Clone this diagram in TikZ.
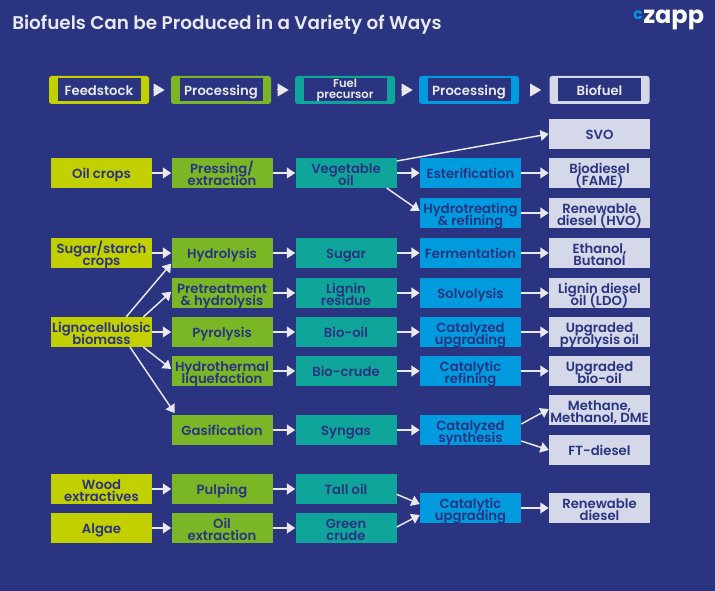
\documentclass[tikz,border=0pt]{standalone}
\usepackage{fontspec}
\setmainfont{Poppins}[BoldFont=* SemiBold]
\newfontfamily\logofont{Poppins}[UprightFont=* Bold]
\usetikzlibrary{arrows.meta, calc}
\lineskiplimit=-5pt
\normallineskiplimit=-5pt
\definecolor{xnavy}{HTML}{2A3480}
\definecolor{xlime}{HTML}{C3D000}
\definecolor{xgreen}{HTML}{7AB626}
\definecolor{xteal}{HTML}{10A59A}
\definecolor{xblue}{HTML}{009BDF}
\definecolor{xpale}{HTML}{D5D8E8}
\definecolor{xwhite}{HTML}{E8E8EE}
\tikzset{
	level text/.style={execute at begin node=\rule{0pt}{11pt}, execute at end node=\vphantom{g}},
	pair/.style={text height=20.5pt, text depth=1pt},
	box/.style={minimum width=75.75pt, minimum height=22.25pt, inner sep=0pt, align=center, level text, text=xnavy, font=\fontsize{9.9}{9.5}\selectfont\bfseries},
	feed/.style={box, fill=xlime},
	proc/.style={box, fill=xgreen},
	fuel/.style={box, fill=xteal},
	upgr/.style={box, fill=xblue},
	prod/.style={box, fill=xpale},
	frame/.style={minimum width=75pt, minimum height=21pt, inner sep=0pt, rounded corners=2pt},
	inner/.style={minimum width=62.25pt, minimum height=17.25pt, inner sep=0pt, align=center, level text, fill=xnavy, text=xwhite, font=\fontsize{9.9}{9.5}\selectfont\bfseries},
	arrow/.style={draw=xwhite, line width=1.1pt, -{Triangle[length=6.2pt, width=8pt]}},
	step arrow/.style={draw=xwhite, line width=0pt, -{Triangle[length=8.25pt, width=9.75pt]}},
}
\begin{document}
\begin{tikzpicture}[x=0.75pt, y=-0.75pt]
	\fill[xnavy] (0,0) rectangle (715,591);
	\useasboundingbox (0,0) rectangle (715,591);

	\node[anchor=west, inner sep=0pt, text=xwhite, font=\fontsize{13.8}{15}\selectfont\bfseries] (title) at (12,25) {Biofuels Can be Produced in a Variety of Ways};
	\node[anchor=base west, inner sep=0pt, text=white, font=\fontsize{18}{18}\logofont] (zapp) at (643,24) {zapp};
	\node[anchor=base east, inner sep=0pt, yshift=3pt, text=xblue, font=\fontsize{11.5}{12}\logofont] (logoc) at (zapp.base west) {c};

	% header row
	\node[frame, fill=xlime] (hfeed) at (99,90) {};
	\node[inner] (lfeed) at (hfeed) {Feedstock};
	\node[frame, fill=xgreen] (hproc) at (221,90) {};
	\node[inner] (lproc) at (hproc) {Processing};
	\node[frame, fill=xteal] (hfuel) at (345,90) {};
	\node[inner, font=\fontsize{8.6}{8.3}\selectfont\bfseries] (lfuel) at (hfuel) {Fuel\\precursor};
	\node[frame, fill=xblue] (hupgr) at (469,90) {};
	\node[inner] (lupgr) at (hupgr) {Processing};
	\node[frame, fill=xpale] (hbio) at (599.5,90) {};
	\node[inner] (lbio) at (hbio) {Biofuel};

	\draw[step arrow, shorten <=3.75pt, shorten >=4.5pt] (hfeed) -- (hproc);
	\draw[step arrow, shorten <=5.25pt, shorten >=4.5pt] (hproc) -- (hfuel);
	\draw[step arrow, shorten <=5.25pt, shorten >=4.5pt] (hfuel) -- (hupgr);
	\draw[step arrow, shorten <=8.25pt, shorten >=6pt] (hupgr) -- (hbio);

	% feedstocks
	\node[feed] (oil) at (101.5,173) {Oil crops};
	\node[feed, pair] (sugarc) at (101.5,253) {Sugar/starch\\crops};
	\node[feed, pair] (ligno) at (101.5,332) {Lignocellulosic\\biomass};
	\node[feed, pair] (wood) at (101.5,489) {Wood\\extractives};
	\node[feed] (algae) at (101.5,528) {Algae};

	% first processing
	\node[proc, pair] (press) at (222,173) {Pressing/\\extraction};
	\node[proc] (hydrol) at (222,253) {Hydrolysis};
	\node[proc, pair] (pretr) at (222,293) {Pretreatment\\\& hydrolysis};
	\node[proc] (pyro) at (222,332) {Pyrolysis};
	\node[proc, pair] (htl) at (222,371) {Hydrothermal\\liquefaction};
	\node[proc] (gasif) at (222,430) {Gasification};
	\node[proc] (pulp) at (222,489) {Pulping};
	\node[proc, pair] (oilex) at (222,528) {Oil\\extraction};

	% precursors
	\node[fuel, pair] (veg) at (346,173) {Vegetable\\oil};
	\node[fuel] (sugar) at (346,253) {Sugar};
	\node[fuel, pair] (lignin) at (346,293) {Lignin\\residue};
	\node[fuel] (biooil) at (346,332) {Bio-oil};
	\node[fuel] (biocr) at (346,371) {Bio-crude};
	\node[fuel] (syngas) at (346,430) {Syngas};
	\node[fuel] (tall) at (346,489) {Tall oil};
	\node[fuel, pair] (green) at (346,528) {Green\\crude};

	% second processing
	\node[upgr] (ester) at (470.5,173) {Esterification};
	\node[upgr, pair] (hydrot) at (470.5,213) {Hydrotreating\\\& refining};
	\node[upgr] (ferm) at (470.5,253) {Fermentation};
	\node[upgr] (solvo) at (470.5,293) {Solvolysis};
	\node[upgr, pair] (catup) at (470.5,332) {Catalyzed\\upgrading};
	\node[upgr, pair] (catref) at (470.5,371) {Catalytic\\refining};
	\node[upgr, pair] (catsyn) at (470.5,430) {Catalyzed\\synthesis};
	\node[upgr, pair] (catup2) at (470.5,508) {Catalytic\\upgrading};

	% products
	\node[prod] (svo) at (599.5,134) {SVO};
	\node[prod, pair] (fame) at (599.5,173) {Biodiesel\\(FAME)};
	\node[prod, pair] (hvo) at (599.5,213) {Renewable\\diesel (HVO)};
	\node[prod, pair] (ethanol) at (599.5,253) {Ethanol,\\Butanol};
	\node[prod, pair] (ldo) at (599.5,293) {Lignin diesel\\oil (LDO)};
	\node[prod, pair] (upyro) at (599.5,332) {Upgraded\\pyrolysis oil};
	\node[prod, pair] (ubio) at (599.5,371) {Upgraded\\bio-oil};
	\node[prod, pair] (meth) at (599.5,410) {Methane,\\Methanol, DME};
	\node[prod] (ft) at (599.5,450) {FT-diesel};
	\node[prod, pair] (rdiesel) at (599.5,508) {Renewable\\diesel};

	\draw[arrow] (oil) -- (press);
	\draw[arrow] (press) -- (veg);
	\draw[arrow] (veg) -- (ester);
	\draw[arrow] (ester) -- (fame);
	\draw[arrow] (hydrot) -- (hvo);
	\draw[arrow] ([yshift=9pt]veg.east) -- (svo.west);
	\draw[arrow] ([xshift=-7.5pt]veg.south east) -- ([yshift=1.5pt]hydrot.west);

	\draw[arrow] (sugarc) -- (hydrol);
	\draw[arrow] (hydrol) -- (sugar);
	\draw[arrow] (sugar) -- (ferm);
	\draw[arrow] (ferm) -- (ethanol);

	\draw[arrow] ([xshift=18.5pt]ligno.north) -- ([yshift=3.4pt]hydrol.south west);
	\draw[arrow] ([xshift=31.4pt]ligno.north) -- ([yshift=1pt]pretr.west);
	\draw[arrow] (ligno) -- (pyro);
	\draw[arrow] ([xshift=31.4pt]ligno.south) -- ([yshift=1.5pt]htl.west);
	\draw[arrow] ([xshift=21.4pt]ligno.south) -- ([xshift=2.6pt,yshift=1.3pt]gasif.north west);

	\draw[arrow] (pretr) -- (lignin);
	\draw[arrow] (lignin) -- (solvo);
	\draw[arrow] (solvo) -- (ldo);
	\draw[arrow] (pyro) -- (biooil);
	\draw[arrow] (biooil) -- (catup);
	\draw[arrow] (catup) -- (upyro);
	\draw[arrow] (htl) -- (biocr);
	\draw[arrow] (biocr) -- (catref);
	\draw[arrow] (catref) -- (ubio);
	\draw[arrow] (gasif) -- (syngas);
	\draw[arrow] (syngas) -- (catsyn);
	\draw[arrow] ([yshift=4.5pt]catsyn.east) -- ([yshift=0.75pt]meth.west);
	\draw[arrow] ([yshift=-8.25pt]catsyn.east) -- (ft.west);

	\draw[arrow] (wood) -- (pulp);
	\draw[arrow] (pulp) -- (tall);
	\draw[arrow] (algae) -- (oilex);
	\draw[arrow] (oilex) -- (green);
	\draw[arrow] ([yshift=-4pt]tall.east) -- ([yshift=3pt]catup2.west);
	\draw[arrow] ([yshift=0.75pt]green.east) -- ([yshift=-5.25pt]catup2.west);
	\draw[arrow] (catup2) -- (rdiesel);
\end{tikzpicture}
\end{document}
